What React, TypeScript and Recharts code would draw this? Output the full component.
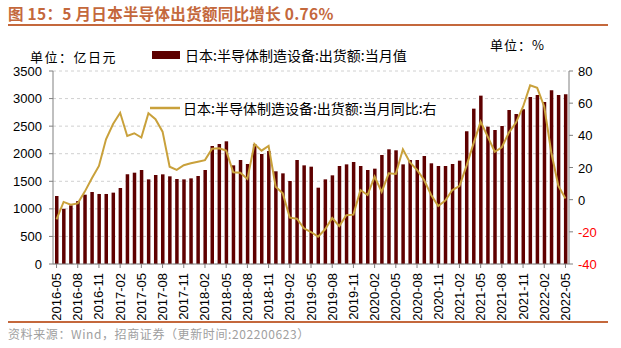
import React from "react";
import {
  ComposedChart,
  Bar,
  Line,
  XAxis,
  YAxis,
  CartesianGrid,
} from "recharts";

// 2016-05 .. 2022-05, monthly
const months: string[] = [];
for (let y = 2016, m = 5; y < 2022 || (y === 2022 && m <= 5); ) {
  months.push(`${y}-${String(m).padStart(2, "0")}`);
  m++;
  if (m > 12) {
    m = 1;
    y++;
  }
}

// 出货额:当月值 (亿日元)
const shipments: number[] = [
  1233, 1000, 1064, 1142, 1257, 1306, 1270, 1270, 1294, 1378,
  1626, 1656, 1705, 1535, 1614, 1626, 1590, 1541, 1535, 1553,
  1596, 1705, 2140, 2176, 2225, 1789, 1886, 1814, 2170, 1995,
  2049, 1681, 1644, 1505, 1886, 1789, 1765, 1384, 1535, 1608,
  1777, 1807, 1850, 1777, 1705, 1729, 1977, 2080, 2062, 1807,
  1886, 1886, 1959, 1826, 1777, 1777, 1814, 1874, 2406, 2817,
  3053, 2491, 2430, 2503, 2793, 2720, 2805, 3029, 3065, 2938,
  3150, 3065, 3077,
];

// 出货额:当月同比 (%)
const yoy: number[] = [
  -12.2, -1.4, -3.1, -2.3, 5.0, 13.3, 21.0, 37.5, 47.0, 54.0,
  39.6, 41.3, 38.6, 53.7, 50.0, 42.3, 20.5, 18.5, 21.4, 22.6,
  23.6, 24.6, 31.7, 32.0, 30.5, 17.0, 16.8, 12.9, 34.6, 30.5,
  33.4, 8.1, 4.0, -11.2, -11.8, -17.8, -20.1, -23.0, -18.4, -11.4,
  -16.4, -9.7, -9.3, 6.0, 2.9, 14.3, 4.8, 16.4, 16.0, 31.3,
  23.2, 18.5, 12.2, 2.9, -3.9, -0.6, 6.0, 8.5, 21.0, 35.0,
  48.5, 39.2, 29.8, 32.6, 41.7, 47.9, 57.8, 71.1, 69.5, 57.8,
  29.2, 8.5, 0.76,
];

const leftTicks = [0, 500, 1000, 1500, 2000, 2500, 3000, 3500];
const rightTicks = [-40, -20, 0, 20, 40, 60, 80];

const data = months.map((month, i) => ({
  month,
  shipments: shipments[i],
  yoy: yoy[i],
}));

const AXIS_FONT = "'Liberation Sans', Arial, sans-serif";
const CJK_FONT = "'Noto Sans CJK SC', 'Noto Sans', sans-serif";
const ACCENT = "#C4683C";
const BAR_COLOR = "#5E0000";
const LINE_COLOR = "#C9A13B";

const XTick = (props: any) => {
  const { x, y, payload } = props;
  return (
    <text
      x={0}
      y={0}
      transform={`translate(${x + 4.5},${y + 3}) rotate(-90)`}
      textAnchor="end"
      fontSize={13}
      fontFamily={AXIS_FONT}
      fill="#000"
    >
      {payload.value}
    </text>
  );
};

const RightTick = (props: any) => {
  const { x, y, payload } = props;
  return (
    <text
      x={x}
      y={y}
      dy={5}
      textAnchor="start"
      fontSize={13}
      fontFamily={AXIS_FONT}
      fill={payload.value < 0 ? "#FF0000" : "#000"}
    >
      {payload.value}
    </text>
  );
};

const App: React.FC = () => {
  return (
    <div
      style={{
        position: "absolute",
        left: 0,
        top: 0,
        width: 621,
        height: 348,
        background: "#fff",
        fontFamily: CJK_FONT,
      }}
    >
      <div
        style={{
          position: "absolute",
          left: 8,
          top: 2,
          fontSize: 15.5,
          fontWeight: "bold",
          color: ACCENT,
          whiteSpace: "nowrap",
          letterSpacing: 0.3,
        }}
      >
        图 15：5 月日本半导体出货额同比增长 0.76%
      </div>
      <div
        style={{
          position: "absolute",
          left: 8,
          top: 24,
          width: 600,
          height: 2,
          background: ACCENT,
        }}
      />
      <div
        style={{
          position: "absolute",
          left: 30,
          top: 47,
          fontSize: 13,
          color: "#000",
          whiteSpace: "nowrap",
          letterSpacing: 1.5,
        }}
      >
        单位：亿日元
      </div>
      <div
        style={{
          position: "absolute",
          left: 490,
          top: 35,
          fontSize: 13,
          color: "#000",
          whiteSpace: "nowrap",
          letterSpacing: 1,
        }}
      >
        单位：%
      </div>

      <ComposedChart
        width={621}
        height={348}
        data={data}
        margin={{ top: 71, right: 12, bottom: 29, left: 8 }}
        style={{ position: "absolute", left: 0, top: 0 }}
      >
        <CartesianGrid
          yAxisId="left"
          vertical={false}
          stroke="#D0D0D0"
          strokeDasharray="3 3"
        />
        <XAxis
          dataKey="month"
          interval={2}
          height={55}
          tickSize={4}
          tick={<XTick />}
          axisLine={{ stroke: "#808080" }}
          tickLine={{ stroke: "#808080" }}
        />
        <YAxis
          yAxisId="left"
          orientation="left"
          width={45}
          domain={[0, 3500]}
          ticks={leftTicks}
          tickSize={4}
          tickMargin={7}
          tick={{ fontSize: 13, fontFamily: AXIS_FONT, fill: "#000" }}
          axisLine={{ stroke: "#808080" }}
          tickLine={{ stroke: "#808080" }}
        />
        <YAxis
          yAxisId="right"
          orientation="right"
          width={40}
          domain={[-40, 80]}
          ticks={rightTicks}
          tickSize={4}
          tickMargin={5}
          tick={<RightTick />}
          axisLine={{ stroke: "#808080" }}
          tickLine={{ stroke: "#808080" }}
        />
        <Bar
          yAxisId="left"
          dataKey="shipments"
          fill={BAR_COLOR}
          barSize={3.5}
          isAnimationActive={false}
        />
        <Line
          yAxisId="right"
          dataKey="yoy"
          type="linear"
          stroke={LINE_COLOR}
          strokeWidth={2}
          dot={false}
          activeDot={false}
          isAnimationActive={false}
        />
      </ComposedChart>

      <svg
        width={621}
        height={348}
        style={{ position: "absolute", left: 0, top: 0, pointerEvents: "none" }}
      >
        <rect x={152} y={51} width={28} height={8} fill={BAR_COLOR} />
        <line x1={150} y1={108} x2={180} y2={108} stroke={LINE_COLOR} strokeWidth={2.5} />
      </svg>
      <div
        style={{
          position: "absolute",
          left: 185,
          top: 45,
          fontSize: 14,
          color: "#000",
          whiteSpace: "nowrap",
        }}
      >
        日本:半导体制造设备:出货额:当月值
      </div>
      <div
        style={{
          position: "absolute",
          left: 183,
          top: 98,
          fontSize: 14,
          color: "#000",
          whiteSpace: "nowrap",
        }}
      >
        日本:半导体制造设备:出货额:当月同比:右
      </div>

      <div
        style={{
          position: "absolute",
          left: 8,
          top: 321,
          width: 600,
          height: 2,
          background: ACCENT,
        }}
      />
      <div
        style={{
          position: "absolute",
          left: 8,
          top: 325,
          fontSize: 12,
          color: "#A0A0A0",
          whiteSpace: "nowrap",
          letterSpacing: 0.6,
        }}
      >
        资料来源：Wind，招商证券（更新时间:202200623）
      </div>
    </div>
  );
};

export default App;
